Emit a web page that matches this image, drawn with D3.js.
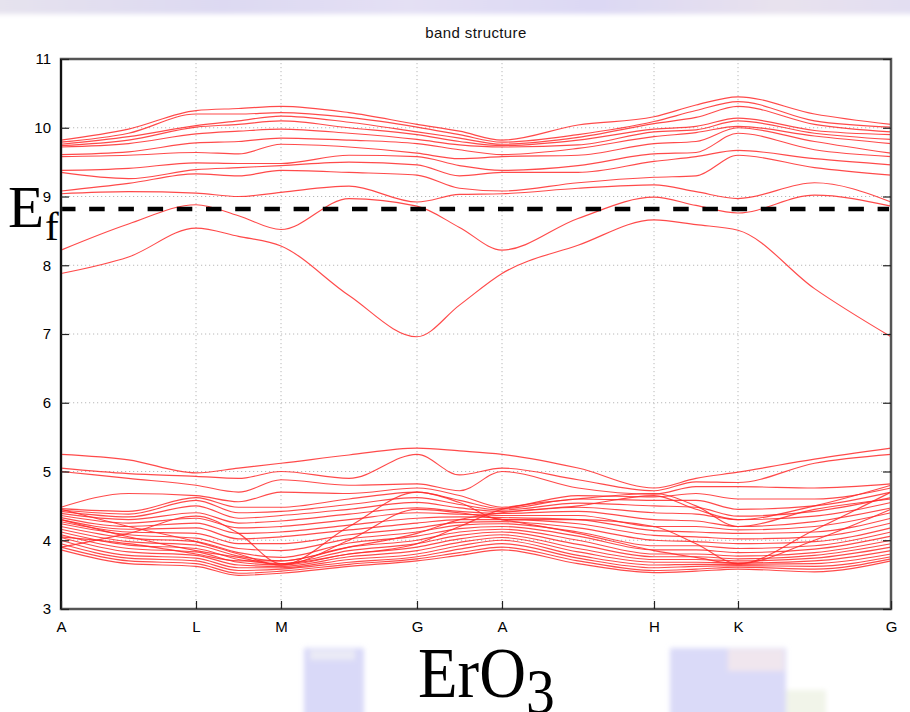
<!DOCTYPE html>
<html><head><meta charset="utf-8">
<script src="https://cdn.jsdelivr.net/npm/d3@7"></script>
<style>
  body { margin: 0; background: #fff; }
  svg { display: block; }
</style>
</head><body>
<svg id="chart" width="910" height="712"></svg>
<script>
// high-symmetry path (cumulative path length) and its labels
const kLabels = ["A", "L", "M", "G", "A", "H", "K", "G"];
const kPath = [0, 135, 220, 356, 441, 593, 677, 830];
const yTicks = [3, 4, 5, 6, 7, 8, 9, 10, 11];
const fermiLevel = 8.82;

// conduction-side levels (eV) at each node: high-symmetry points and segment midpoints
const cA  = [7.88, 8.22, 9.04, 9.08, 9.35, 9.38, 9.58, 9.61, 9.72, 9.74, 9.76, 9.79, 9.82];
const cAL = [8.12, 8.60, 9.07, 9.19, 9.26, 9.41, 9.60, 9.65, 9.77, 9.82, 9.87, 9.92, 9.98];
const cL  = [8.54, 8.88, 9.05, 9.33, 9.39, 9.49, 9.64, 9.78, 9.91, 10.01, 10.03, 10.20, 10.25];
const cLM = [8.42, 8.72, 9.00, 9.30, 9.42, 9.48, 9.62, 9.80, 9.95, 10.05, 10.10, 10.20, 10.28];
const cM  = [8.28, 8.52, 9.06, 9.38, 9.45, 9.48, 9.76, 9.85, 9.98, 10.10, 10.17, 10.22, 10.31];
const cMG = [7.56, 8.97, 9.15, 9.35, 9.50, 9.60, 9.72, 9.82, 9.92, 10.00, 10.08, 10.15, 10.22];
const cG  = [6.96, 8.86, 8.92, 9.31, 9.46, 9.58, 9.63, 9.77, 9.83, 9.90, 9.94, 10.01, 10.05];
const cGA = [7.42, 8.55, 9.03, 9.12, 9.30, 9.45, 9.55, 9.68, 9.75, 9.80, 9.85, 9.90, 9.95];
const cAH = [8.29, 8.68, 9.12, 9.20, 9.35, 9.45, 9.60, 9.70, 9.75, 9.82, 9.86, 9.90, 10.04];
const cH  = [8.66, 8.99, 9.17, 9.28, 9.51, 9.62, 9.77, 9.87, 9.94, 9.98, 10.06, 10.09, 10.16];
const cHK = [8.59, 8.87, 9.07, 9.30, 9.58, 9.64, 9.80, 9.93, 9.97, 10.02, 10.15, 10.25, 10.33];
const cK  = [8.51, 8.76, 8.97, 9.60, 9.67, 9.92, 10.00, 10.02, 10.10, 10.14, 10.31, 10.38, 10.45];
const cKG = [7.66, 9.02, 9.20, 9.42, 9.55, 9.68, 9.80, 9.88, 9.92, 9.96, 10.05, 10.10, 10.20];

// valence-side levels (eV) at the same nodes
const vA  = [3.86, 3.90, 3.95, 4.00, 4.04, 4.08, 4.12, 4.16, 4.20, 4.24, 4.27, 4.30, 4.33, 4.36, 4.39, 4.42, 4.44, 4.46, 4.48, 5.00, 5.05, 5.25];
const vAL = [3.66, 3.70, 3.74, 3.78, 3.83, 3.88, 3.93, 3.98, 4.03, 4.08, 4.12, 4.16, 4.20, 4.25, 4.30, 4.34, 4.38, 4.42, 4.68, 4.90, 4.97, 5.17];
const vL  = [3.62, 3.66, 3.70, 3.74, 3.78, 3.83, 3.88, 3.93, 3.98, 4.03, 4.10, 4.18, 4.25, 4.32, 4.40, 4.50, 4.58, 4.62, 4.65, 4.80, 4.93, 4.98];
const vLM = [3.49, 3.52, 3.56, 3.60, 3.64, 3.68, 3.72, 3.77, 3.82, 3.88, 3.95, 4.02, 4.10, 4.18, 4.25, 4.32, 4.40, 4.48, 4.56, 4.70, 4.90, 5.05];
const vM  = [3.52, 3.55, 3.58, 3.60, 3.62, 3.64, 3.66, 3.70, 3.75, 3.85, 3.95, 4.05, 4.12, 4.20, 4.28, 4.36, 4.42, 4.48, 4.70, 4.88, 5.00, 5.12];
const vMG = [3.62, 3.65, 3.68, 3.72, 3.76, 3.80, 3.85, 3.90, 3.96, 4.02, 4.08, 4.15, 4.22, 4.30, 4.38, 4.45, 4.52, 4.60, 4.68, 4.80, 4.90, 5.24];
const vG  = [3.70, 3.73, 3.76, 3.80, 3.85, 3.90, 3.95, 4.00, 4.06, 4.12, 4.18, 4.25, 4.32, 4.40, 4.47, 4.55, 4.62, 4.70, 4.76, 4.82, 5.25, 5.34];
const vGA = [3.78, 3.82, 3.87, 3.92, 3.97, 4.02, 4.07, 4.12, 4.17, 4.22, 4.26, 4.30, 4.34, 4.38, 4.42, 4.47, 4.52, 4.58, 4.65, 4.72, 4.95, 5.30];
const vAH = [3.66, 3.70, 3.74, 3.78, 3.83, 3.88, 3.94, 4.00, 4.06, 4.12, 4.18, 4.24, 4.30, 4.36, 4.42, 4.48, 4.54, 4.60, 4.65, 4.76, 4.88, 5.05];
const vH  = [3.53, 3.56, 3.60, 3.64, 3.68, 3.72, 3.76, 3.80, 3.86, 3.92, 4.00, 4.07, 4.14, 4.20, 4.30, 4.40, 4.50, 4.58, 4.63, 4.67, 4.72, 4.76];
const vHK = [3.55, 3.58, 3.62, 3.65, 3.68, 3.72, 3.76, 3.80, 3.86, 3.92, 3.98, 4.05, 4.12, 4.20, 4.28, 4.38, 4.48, 4.58, 4.68, 4.78, 4.85, 4.90];
const vK  = [3.58, 3.61, 3.63, 3.65, 3.67, 3.70, 3.73, 3.77, 3.82, 3.88, 3.95, 4.02, 4.10, 4.15, 4.20, 4.30, 4.35, 4.45, 4.60, 4.78, 4.84, 4.99];
const vKG = [3.54, 3.58, 3.62, 3.66, 3.70, 3.74, 3.78, 3.82, 3.87, 3.92, 3.98, 4.05, 4.12, 4.20, 4.27, 4.35, 4.42, 4.50, 4.60, 4.76, 5.12, 5.18];

// valence bands that cut across the bundle (one value per node)
const crossA = [4.45, 4.20, 3.98, 3.80, 3.64, 4.00, 4.45, 4.40, 4.30, 4.10, 3.85, 3.75, 3.66, 4.00, 4.45];
const crossB = [4.30, 4.05, 3.85, 3.75, 3.64, 4.20, 4.70, 4.55, 4.30, 4.30, 4.20, 3.95, 3.66, 4.15, 4.70];
const crossC = [3.90, 4.10, 4.35, 4.10, 3.66, 3.80, 3.95, 4.20, 4.45, 4.60, 4.68, 4.50, 4.20, 4.45, 4.60];
const crossD = [4.05, 3.95, 3.80, 3.70, 3.70, 3.90, 4.10, 4.30, 4.40, 4.50, 4.65, 4.45, 4.30, 4.50, 4.80];

// node positions: each high-symmetry point followed by the midpoint of the next segment
const nodeK = [];
kPath.forEach((k, i) => {
  nodeK.push(k);
  if (i < kPath.length - 1) nodeK.push((k + kPath[i + 1]) / 2);
});

const condBands = d3.transpose([cA, cAL, cL, cLM, cM, cMG, cG, cGA, cA, cAH, cH, cHK, cK, cKG, cG]);
const valBands  = d3.transpose([vA, vAL, vL, vLM, vM, vMG, vG, vGA, vA, vAH, vH, vHK, vK, vKG, vG])
  .concat([crossA, crossB, crossC, crossD]);

const svg = d3.select("#chart");
const plotLeft = 61, plotRight = 891, plotTop = 59, plotBottom = 609;

const x = d3.scaleLinear().domain([kPath[0], kPath[kPath.length - 1]]).range([plotLeft, plotRight]);
const y = d3.scaleLinear().domain([3, 11]).range([plotBottom, plotTop]);

// soft background pieces of the slide
const defs = svg.append("defs");
defs.append("filter").attr("id", "soft").append("feGaussianBlur").attr("stdDeviation", 2.5);
const grad = defs.append("linearGradient").attr("id", "topband").attr("x1", 0).attr("x2", 1);
[["0%", "#e6e3ee"], ["25%", "#ddd9f2"], ["45%", "#e4e0f4"], ["65%", "#dcd8f4"], ["85%", "#e8e2ee"], ["100%", "#e2def2"]]
  .forEach(([o, c]) => grad.append("stop").attr("offset", o).attr("stop-color", c));
const bg = svg.append("g").attr("filter", "url(#soft)");
bg.append("rect").attr("x", -10).attr("y", -10).attr("width", 930).attr("height", 24).attr("fill", "url(#topband)");
bg.append("rect").attr("x", 304).attr("y", 648).attr("width", 60).attr("height", 80).attr("fill", "#d9d9f8");
bg.append("rect").attr("x", 310).attr("y", 650).attr("width", 45).attr("height", 10).attr("fill", "#eaeaf6");
bg.append("rect").attr("x", 670).attr("y", 648).attr("width", 116).attr("height", 80).attr("fill", "#dadaf8");
bg.append("rect").attr("x", 728).attr("y", 649).attr("width", 56).attr("height", 22).attr("fill", "#f0e6ee");
bg.append("rect").attr("x", 786).attr("y", 690).attr("width", 40).attr("height", 30).attr("fill", "#f1f4e9");

// grid
const grid = svg.append("g").attr("stroke", "#b8b8b8").attr("stroke-width", 1).attr("stroke-dasharray", "1.2,2.8");
grid.selectAll("line.h").data(yTicks.slice(1, -1)).join("line").attr("class", "h")
  .attr("x1", plotLeft).attr("x2", plotRight).attr("y1", d => y(d)).attr("y2", d => y(d));
grid.selectAll("line.v").data(kPath.slice(1, -1)).join("line").attr("class", "v")
  .attr("y1", plotTop).attr("y2", plotBottom).attr("x1", d => x(d)).attr("x2", d => x(d));

// bands
const line = d3.line().x((d, i) => x(nodeK[i])).y(d => y(d)).curve(d3.curveMonotoneX);
const bands = svg.append("g").attr("fill", "none").attr("stroke", "#ff2a2a")
  .attr("stroke-width", 1.15).attr("stroke-opacity", 0.85);
bands.selectAll("path.c").data(condBands).join("path").attr("class", "c").attr("d", line);
bands.selectAll("path.v").data(valBands).join("path").attr("class", "v").attr("d", line);

// Fermi level
svg.append("line").attr("x1", plotLeft - 1).attr("x2", plotRight - 2)
  .attr("y1", y(fermiLevel)).attr("y2", y(fermiLevel))
  .attr("stroke", "#000").attr("stroke-width", 4.5).attr("stroke-dasharray", "15.5,13.7");

// frame
svg.append("rect").attr("x", plotLeft).attr("y", plotTop)
  .attr("width", plotRight - plotLeft).attr("height", plotBottom - plotTop)
  .attr("fill", "none").attr("stroke", "#555").attr("stroke-width", 2.5);
svg.append("line").attr("x1", plotLeft).attr("x2", plotLeft).attr("y1", plotTop).attr("y2", plotBottom)
  .attr("stroke", "#000").attr("stroke-width", 1.6);

// axes
const font = "'Liberation Sans', Arial, Helvetica, sans-serif";
const yAxis = svg.append("g").attr("transform", `translate(${plotLeft},0)`)
  .call(d3.axisLeft(y).tickValues(yTicks).tickSize(-8).tickPadding(10).tickFormat(d3.format("d")));
const yAxisR = svg.append("g").attr("transform", `translate(${plotRight},0)`)
  .call(d3.axisRight(y).tickValues(yTicks).tickSize(-8).tickFormat(""));
const xAxis = svg.append("g").attr("transform", `translate(0,${plotBottom})`)
  .call(d3.axisBottom(x).tickValues(kPath).tickSize(-8).tickPadding(12).tickFormat((d, i) => kLabels[i]));
[yAxis, yAxisR, xAxis].forEach(g => {
  g.select(".domain").remove();
  g.selectAll(".tick line").attr("stroke", "#222").attr("stroke-width", 1.2);
  g.selectAll("text").attr("font-family", font).attr("font-size", 15).attr("fill", "#000");
});

// title
svg.append("text").attr("x", 476).attr("y", 38).attr("text-anchor", "middle")
  .attr("font-family", font).attr("font-size", 15).attr("letter-spacing", 0.4)
  .attr("fill", "#111").text("band structure");

// Fermi-level label
const serif = "'Liberation Serif', 'Times New Roman', serif";
const ef = svg.append("text").attr("font-family", serif).attr("fill", "#000");
ef.append("tspan").attr("x", 8).attr("y", 227).attr("font-size", 59).text("E");
ef.append("tspan").attr("x", 45).attr("y", 240).attr("font-size", 41).text("f");

// compound label
const comp = svg.append("text").attr("font-family", serif).attr("fill", "#000")
  .attr("transform", "translate(418,697) scale(0.9,1)");
comp.append("tspan").attr("x", 0).attr("y", 0).attr("font-size", 72).text("ErO");
comp.append("tspan").attr("dy", 16).attr("font-size", 64).text("3");
</script>
</body></html>
